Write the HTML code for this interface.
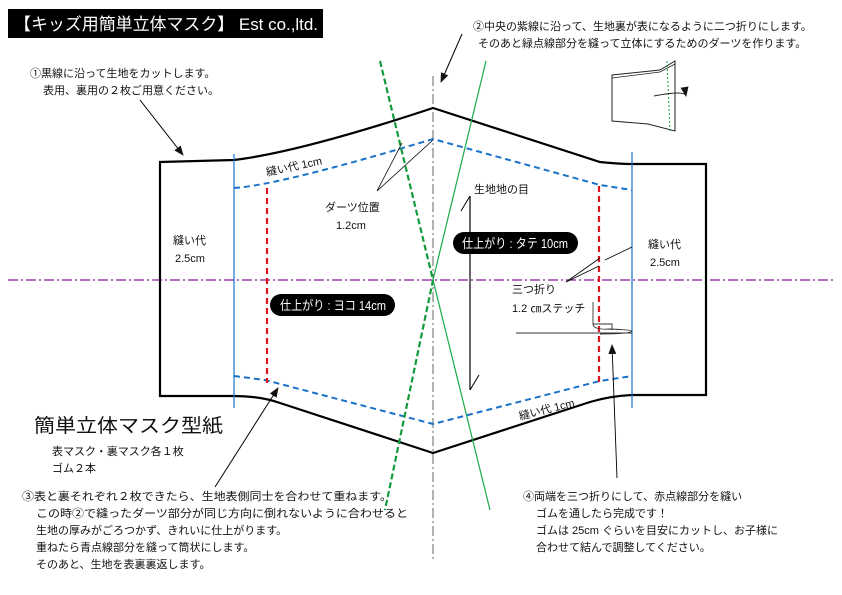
<!DOCTYPE html>
<html><head><meta charset="utf-8"><style>
html,body{margin:0;padding:0;background:#fff;}
svg{display:block;}
text{font-family:"Liberation Sans","Noto Sans CJK JP",sans-serif;fill:#111;}
</style></head><body>
<svg width="842" height="595" viewBox="0 0 842 595" xmlns="http://www.w3.org/2000/svg">
<defs>
<marker id="ar" markerWidth="10" markerHeight="10" refX="9" refY="5" orient="auto" markerUnits="userSpaceOnUse">
<path d="M0,1 L10,5 L0,9 Z" fill="#111"/></marker>
</defs>
<!-- title -->
<rect x="8" y="9" width="315" height="29" fill="#000"/>
<text x="14" y="30" font-size="17" style="fill:#fff" textLength="304" lengthAdjust="spacingAndGlyphs">【キッズ用簡単立体マスク】  Est co.,ltd.</text>

<!-- guide lines -->
<line x1="8" y1="280" x2="835" y2="280" stroke="#8b1a9a" stroke-width="1.2" stroke-dasharray="10,3,2,3"/>
<line x1="433" y1="76" x2="433" y2="562" stroke="#555" stroke-width="0.9" stroke-dasharray="10,3,2,3"/>

<!-- outline -->
<path d="M160,162 L234,160 Q300,152 433,108 L600,162 Q620,164 632,164 L706,164 L706,395 L632,395 Q610,396 590,402 L433,453 L280,403 Q260,396 234,396 L160,396 Z" fill="none" stroke="#000" stroke-width="2.2"/>
<!-- blue verticals -->
<line x1="234" y1="154" x2="234" y2="408" stroke="#1a73c8" stroke-width="1.2"/>
<line x1="632" y1="152" x2="632" y2="408" stroke="#1a73c8" stroke-width="1.2"/>
<!-- blue dashed -->
<path d="M234,188 Q280,185 433,139 L600,185 L632,190" fill="none" stroke="#1a73c8" stroke-width="2" stroke-dasharray="6,4"/>
<path d="M234,376 L265,380 L433,424 L600,381 L632,376" fill="none" stroke="#1a73c8" stroke-width="2" stroke-dasharray="6,4"/>
<!-- red dashed -->
<line x1="267" y1="188" x2="267" y2="383" stroke="#e0141e" stroke-width="2.2" stroke-dasharray="6,4"/>
<line x1="599" y1="186" x2="599" y2="382" stroke="#e0141e" stroke-width="2.2" stroke-dasharray="6,4"/>
<!-- green -->
<path d="M380,61 L433,280 L385,510" fill="none" stroke="#129a3c" stroke-width="2.2" stroke-dasharray="6,3"/>
<path d="M486,61 L433,280 L490,510" fill="none" stroke="#1aa84a" stroke-width="1.2"/>

<!-- grain arrow -->
<line x1="470" y1="196" x2="470" y2="390" stroke="#000" stroke-width="1.2"/>
<line x1="470" y1="196" x2="461" y2="211" stroke="#000" stroke-width="1"/>
<line x1="470" y1="390" x2="479" y2="375" stroke="#000" stroke-width="1"/>

<!-- dart pointers -->
<polyline points="402,143 377,191 433,140" fill="none" stroke="#000" stroke-width="0.8"/>
<!-- 三つ折り pointer -->
<polyline points="566,282 600,258" fill="none" stroke="#000" stroke-width="0.8"/>
<polyline points="566,282 599,266" fill="none" stroke="#000" stroke-width="0.8"/>
<line x1="632" y1="247" x2="605" y2="260" stroke="#000" stroke-width="0.8"/>
<!-- stitch symbol -->
<path d="M593,302 L593,324 L612,324 L612,330 M593,324 Q593,330 610,329 Q632,330 632,331 Q630,334 600,334 M516,333 L632,333" fill="none" stroke="#333" stroke-width="0.9"/>
<!-- pointer ④ -->
<line x1="617" y1="478" x2="612" y2="345" stroke="#000" stroke-width="0.9" marker-end="url(#ar)"/>
<!-- pointer ① -->
<line x1="140" y1="100" x2="183" y2="155" stroke="#000" stroke-width="1" marker-end="url(#ar)"/>
<!-- pointer ② -->
<line x1="462" y1="34" x2="441" y2="82" stroke="#000" stroke-width="1" marker-end="url(#ar)"/>
<!-- pointer ③ -->
<line x1="215" y1="487" x2="278" y2="388" stroke="#000" stroke-width="1" marker-end="url(#ar)"/>

<!-- small folded mask -->
<path d="M612,75 L660,70 L675,61 L675,131 L648,124 L612,121 Z" fill="none" stroke="#222" stroke-width="1"/>
<path d="M612,78 L660,72 L675,64" fill="none" stroke="#222" stroke-width="0.8"/>
<line x1="667" y1="61" x2="670" y2="132" stroke="#129a3c" stroke-width="1" stroke-dasharray="2,2"/>
<path d="M654,96 Q685,90 686,96" fill="none" stroke="#222" stroke-width="0.9" marker-end="url(#ar)"/>

<!-- labels -->
<rect x="270" y="294" width="125" height="22" rx="11" fill="#000"/>
<text x="280" y="310" font-size="13" style="fill:#fff" textLength="106" lengthAdjust="spacingAndGlyphs">仕上がり : ヨコ 14cm</text>
<rect x="453" y="232" width="125" height="22" rx="11" fill="#000"/>
<text x="462" y="248" font-size="13" style="fill:#fff" textLength="106" lengthAdjust="spacingAndGlyphs">仕上がり : タテ 10cm</text>

<text x="267" y="176" font-size="11" transform="rotate(-12 267 176)">縫い代 1cm</text>
<text x="520" y="420" font-size="11" transform="rotate(-14 520 420)">縫い代 1cm</text>
<text x="173" y="244" font-size="11">縫い代</text>
<text x="175" y="262" font-size="11">2.5cm</text>
<text x="648" y="248" font-size="11">縫い代</text>
<text x="650" y="266" font-size="11">2.5cm</text>
<text x="325" y="211" font-size="11">ダーツ位置</text>
<text x="336" y="229" font-size="11">1.2cm</text>
<text x="474" y="193" font-size="11">生地地の目</text>
<text x="512" y="293" font-size="11">三つ折り</text>
<text x="512" y="312" font-size="11">1.2 ㎝ステッチ</text>

<text x="30" y="77" font-size="11">①黒線に沿って生地をカットします。</text>
<text x="43" y="94" font-size="11">表用、裏用の２枚ご用意ください。</text>
<text x="473" y="30" font-size="11">②中央の紫線に沿って、生地裏が表になるように二つ折りにします。</text>
<text x="478" y="47" font-size="11">そのあと緑点線部分を縫って立体にするためのダーツを作ります。</text>

<text x="34" y="432" font-size="19" textLength="189" lengthAdjust="spacingAndGlyphs">簡単立体マスク型紙</text>
<text x="52" y="455" font-size="11">表マスク・裏マスク各１枚</text>
<text x="52" y="472" font-size="11">ゴム２本</text>

<g font-size="11">
<text x="22" y="500" textLength="370" lengthAdjust="spacingAndGlyphs">③表と裏それぞれ２枚できたら、生地表側同士を合わせて重ねます。</text>
<text x="36" y="517" textLength="372" lengthAdjust="spacingAndGlyphs">この時②で縫ったダーツ部分が同じ方向に倒れないように合わせると</text>
<text x="36" y="534">生地の厚みがごろつかず、きれいに仕上がります。</text>
<text x="36" y="551">重ねたら青点線部分を縫って筒状にします。</text>
<text x="36" y="568">そのあと、生地を表裏裏返します。</text>
<text x="523" y="500">④両端を三つ折りにして、赤点線部分を縫い</text>
<text x="536" y="517">ゴムを通したら完成です！</text>
<text x="536" y="534">ゴムは 25cm ぐらいを目安にカットし、お子様に</text>
<text x="536" y="551">合わせて結んで調整してください。</text>
</g>
</svg>
</body></html>
